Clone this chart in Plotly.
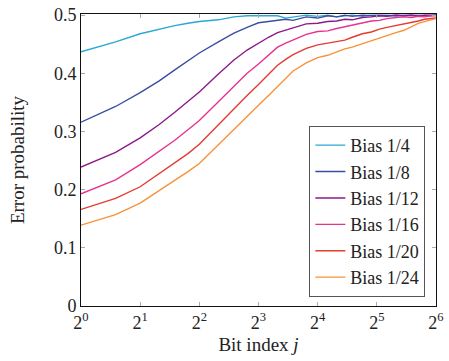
import plotly.graph_objects as go

# Bit index j (log2 axis)
j = [1, 1.5, 2, 2.5, 3, 3.5, 4, 5, 6, 7, 8, 9, 10, 11, 12, 14, 16, 18, 20, 22,
     24, 27, 30, 33, 36, 40, 44, 48, 52, 56, 60, 64]

bias_1_4 = [0.437, 0.454, 0.468, 0.476, 0.482, 0.486, 0.489, 0.492, 0.497, 0.499,
            0.499, 0.498, 0.499, 0.495, 0.497, 0.500, 0.498, 0.500, 0.497, 0.499,
            0.500, 0.498, 0.500, 0.499, 0.500, 0.498, 0.500, 0.499, 0.500, 0.499,
            0.500, 0.500]
bias_1_8 = [0.316, 0.343, 0.367, 0.387, 0.406, 0.421, 0.435, 0.454, 0.469, 0.479,
            0.487, 0.489, 0.491, 0.493, 0.491, 0.497, 0.495, 0.499, 0.497, 0.500,
            0.498, 0.500, 0.499, 0.500, 0.499, 0.500, 0.499, 0.500, 0.498, 0.500,
            0.499, 0.500]
bias_1_12 = [0.239, 0.264, 0.289, 0.312, 0.333, 0.352, 0.368, 0.399, 0.423, 0.440,
             0.452, 0.462, 0.470, 0.474, 0.478, 0.485, 0.486, 0.489, 0.490, 0.493,
             0.492, 0.496, 0.497, 0.499, 0.498, 0.500, 0.499, 0.500, 0.499, 0.500,
             0.500, 0.500]
bias_1_16 = [0.193, 0.217, 0.243, 0.266, 0.285, 0.303, 0.319, 0.351, 0.378, 0.400,
             0.416, 0.431, 0.445, 0.452, 0.457, 0.467, 0.472, 0.473, 0.477, 0.480,
             0.484, 0.487, 0.490, 0.491, 0.494, 0.496, 0.497, 0.496, 0.498, 0.497,
             0.499, 0.499]
bias_1_20 = [0.166, 0.185, 0.205, 0.228, 0.246, 0.262, 0.278, 0.312, 0.338, 0.362,
             0.381, 0.398, 0.414, 0.424, 0.432, 0.443, 0.449, 0.452, 0.455, 0.457,
             0.462, 0.468, 0.471, 0.476, 0.479, 0.482, 0.485, 0.488, 0.490, 0.493,
             0.494, 0.495]
bias_1_24 = [0.139, 0.157, 0.177, 0.198, 0.215, 0.231, 0.245, 0.277, 0.302, 0.325,
             0.345, 0.362, 0.378, 0.392, 0.404, 0.418, 0.427, 0.431, 0.437, 0.442,
             0.445, 0.451, 0.456, 0.460, 0.465, 0.470, 0.474, 0.480, 0.486, 0.489,
             0.492, 0.494]

names = ["Bias 1/4", "Bias 1/8", "Bias 1/12", "Bias 1/16", "Bias 1/20", "Bias 1/24"]
series = [bias_1_4, bias_1_8, bias_1_12, bias_1_16, bias_1_20, bias_1_24]
colors = ["#2aa7d4", "#3a4ea0", "#8b1a8a", "#e8328f", "#e43a30", "#f7923a"]

x_ticks = [1, 2, 4, 8, 16, 32, 64]
x_ticktext = ["2<sup>0</sup>", "2<sup>1</sup>", "2<sup>2</sup>", "2<sup>3</sup>",
              "2<sup>4</sup>", "2<sup>5</sup>", "2<sup>6</sup>"]
y_ticks = [0, 0.1, 0.2, 0.3, 0.4, 0.5]
y_ticktext = ["0", "0.1", "0.2", "0.3", "0.4", "0.5"]

font_family = "Liberation Serif, serif"

fig = go.Figure()
for n, s, c in zip(names, series, colors):
    fig.add_trace(go.Scatter(x=j, y=s, name=n, mode="lines",
                             line=dict(color=c, width=1.4)))

fig.update_layout(
    width=449, height=361,
    margin=dict(l=81, r=5, t=6, b=55),
    paper_bgcolor="white", plot_bgcolor="white",
    font=dict(family=font_family, size=18, color="#222"),
    showlegend=True,
    legend=dict(x=0.97, y=0.031, xanchor="right", yanchor="bottom",
                bgcolor="white", bordercolor="#555", borderwidth=1,
                font=dict(family=font_family, size=18, color="#222"),
                itemwidth=30, tracegroupgap=0),
)
fig.update_xaxes(
    type="log", range=[0, 1.80618], tickvals=x_ticks, ticktext=x_ticktext,
    ticks="inside", ticklen=4, tickcolor="#aaa", mirror="allticks",
    showline=True, linecolor="#111", linewidth=1, showgrid=False, zeroline=False,
    title=dict(text="Bit index <i>j</i>", standoff=6, font=dict(size=19)),
    tickfont=dict(size=18), ticklabeloverflow="allow",
)
fig.update_yaxes(
    range=[0, 0.502], tickvals=y_ticks, ticktext=y_ticktext,
    ticks="inside", ticklen=4, tickcolor="#aaa", mirror="allticks",
    showline=True, linecolor="#111", linewidth=1, showgrid=False, zeroline=False,
    title=dict(text="Error probability", standoff=24, font=dict(size=19)),
    tickfont=dict(size=18), ticklabeloverflow="allow",
)

fig.write_html("out.html")
